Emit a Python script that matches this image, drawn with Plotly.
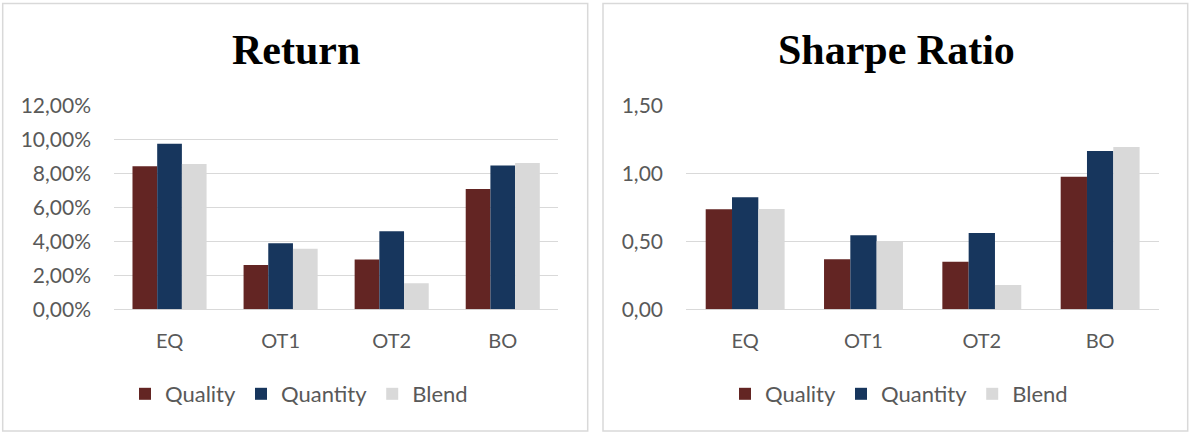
import plotly.graph_objects as go

categories = ["EQ", "OT1", "OT2", "BO"]
series_names = ["Quality", "Quantity", "Blend"]
colors = ["#632523", "#17365D", "#D9D9D9"]

return_quality = [8.43, 2.61, 2.93, 7.09]
return_quantity = [9.76, 3.89, 4.60, 8.48]
return_blend = [8.56, 3.57, 1.53, 8.62]

sharpe_quality = [0.737, 0.368, 0.351, 0.977]
sharpe_quantity = [0.825, 0.545, 0.562, 1.166]
sharpe_blend = [0.739, 0.503, 0.179, 1.196]

return_ticks = [0, 2, 4, 6, 8, 10, 12]
return_ticklabels = ["0,00%", "2,00%", "4,00%", "6,00%", "8,00%", "10,00%", "12,00%"]
sharpe_ticks = [0, 0.5, 1.0, 1.5]
sharpe_ticklabels = ["0,00", "0,50", "1,00", "1,50"]

W, H = 1190, 432
fig = go.Figure()

for name, vals, col in zip(series_names, [return_quality, return_quantity, return_blend], colors):
    fig.add_trace(go.Bar(x=categories, y=vals, name=name, marker=dict(color=col, line=dict(width=0)),
                         xaxis="x", yaxis="y", legend="legend"))
for name, vals, col in zip(series_names, [sharpe_quality, sharpe_quantity, sharpe_blend], colors):
    fig.add_trace(go.Bar(x=categories, y=vals, name=name, marker=dict(color=col, line=dict(width=0)),
                         xaxis="x2", yaxis="y2", legend="legend2"))

ytickfont = dict(family="Lato, Open Sans, sans-serif", size=21, color="#595959")
xtickfont = dict(family="Lato, Open Sans, sans-serif", size=20, color="#595959")
legfont = dict(family="Lato, Open Sans, sans-serif", size=22, color="#595959")
ydom = [(H - 309.3) / H, (H - 105.7) / H]

axis_common_x = dict(showgrid=False, showline=False, zeroline=False, tickfont=xtickfont,
                     ticks="", ticklabelstandoff=18, fixedrange=True, automargin=False)
axis_common_y = dict(showgrid=True, gridcolor="#D9D9D9", gridwidth=1.3, showline=False,
                     zeroline=True, zerolinecolor="#D9D9D9", zerolinewidth=1.3,
                     tickfont=ytickfont, ticks="", ticklabelstandoff=22, domain=ydom, automargin=False)

fig.update_layout(
    template="none",
    width=W, height=H,
    margin=dict(l=0, r=0, t=0, b=0, pad=0, autoexpand=False),
    paper_bgcolor="white", plot_bgcolor="white",
    barmode="group", bargap=0.333, bargroupgap=0,
    xaxis=dict(domain=[114 / W, 558.3 / W], anchor="y", **axis_common_x),
    yaxis=dict(anchor="x", range=[0, 12], tickvals=return_ticks, ticktext=return_ticklabels, **axis_common_y),
    xaxis2=dict(domain=[686 / W, 1159.3 / W], anchor="y2", **axis_common_x),
    yaxis2=dict(anchor="x2", range=[0, 1.5], tickvals=sharpe_ticks, ticktext=sharpe_ticklabels, **axis_common_y),
    legend=dict(orientation="h", x=299 / W, xanchor="center", y=(H - 394) / H, yanchor="middle",
                font=legfont, itemwidth=30, traceorder="normal", bgcolor="rgba(0,0,0,0)"),
    legend2=dict(orientation="h", x=899 / W, xanchor="center", y=(H - 394) / H, yanchor="middle",
                 font=legfont, itemwidth=30, traceorder="normal", bgcolor="rgba(0,0,0,0)"),
    showlegend=True,
    shapes=[
        dict(type="rect", xref="paper", yref="paper", x0=2.7 / W, x1=587.7 / W, y0=(H - 431) / H, y1=(H - 3.5) / H,
             line=dict(color="#D9D9D9", width=1.5), fillcolor="rgba(0,0,0,0)", layer="below"),
        dict(type="rect", xref="paper", yref="paper", x0=603 / W, x1=1187.7 / W, y0=(H - 431) / H, y1=(H - 3.5) / H,
             line=dict(color="#D9D9D9", width=1.5), fillcolor="rgba(0,0,0,0)", layer="below"),
    ],
    annotations=[
        dict(text="<b>Return</b>", xref="paper", yref="paper", x=295.5 / W, y=(H - 50) / H,
             xanchor="center", yanchor="middle", showarrow=False,
             font=dict(family="Liberation Serif, Times New Roman, serif", size=42, color="black")),
        dict(text="<b>Sharpe Ratio</b>", xref="paper", yref="paper", x=896 / W, y=(H - 50) / H,
             xanchor="center", yanchor="middle", showarrow=False,
             font=dict(family="Liberation Serif, Times New Roman, serif", size=42, color="black")),
    ],
)

fig.write_html("out.html")
